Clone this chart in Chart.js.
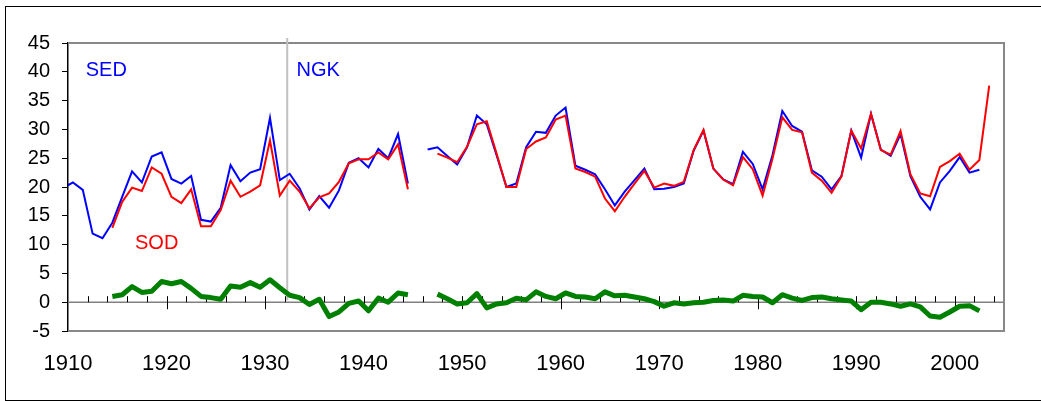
<!DOCTYPE html>
<html>
<head>
<meta charset="utf-8">
<script src="https://cdn.jsdelivr.net/npm/chart.js@4.4.1/dist/chart.umd.min.js"></script>
<style>
  html, body { margin: 0; padding: 0; background: #fff; overflow: hidden; }
  #wrap { position: relative; width: 1041px; height: 401px; }
  #frame { position: absolute; left: 5px; top: 6px; width: 1100px; height: 393px; border: 1px solid #000; pointer-events: none; }
</style>
</head>
<body>
<div id="wrap">
  <canvas id="myChart" width="1041" height="401"></canvas>
  <div id="frame"></div>
</div>
<script>
// years 1909..2003, null = no value
var years = [];
for (var yr = 1909; yr <= 2003; yr++) years.push(yr);

var sed = [
  19.8, 20.8, 19.5, 11.9, 11.1, 13.8, 18.3, 22.7, 20.8, 25.3,   // 1909-1918
  26.0, 21.4, 20.6, 21.9, 14.3, 14.0, 16.4, 23.8, 21.0, 22.5,   // 1919-1928
  23.1, 32.0, 21.2, 22.3, 19.8, 16.1, 18.4, 16.4, 19.4, 24.2,   // 1929-1938
  25.0, 23.4, 26.6, 25.0, 29.2, 20.6, null, 26.5, 26.9, 25.4,   // 1939-1948
  23.9, 26.9, 32.4, 30.9, 25.5, 20.0, 20.6, 26.9, 29.6, 29.4,   // 1949-1958
  32.4, 33.8, 23.7, 23.0, 22.2, 19.6, 16.8, 19.2, 21.2, 23.2,   // 1959-1968
  19.6, 19.7, 20.0, 20.6, 26.3, 29.8, 23.2, 21.3, 20.5, 26.1,   // 1969-1978
  24.0, 19.6, 25.5, 33.2, 30.6, 29.6, 22.9, 21.8, 19.6, 21.9,   // 1979-1988
  29.8, 25.1, 32.7, 26.5, 25.4, 29.2, 21.9, 18.3, 16.1, 20.8,   // 1989-1998
  22.8, 25.2, 22.5, 23.0, null                                  // 1999-2003
];

var sod = [
  null, null, null, null, null, 12.9, 17.4, 19.9, 19.3, 23.4,   // 1909-1918
  22.3, 18.3, 17.2, 19.6, 13.2, 13.2, 16.0, 21.1, 18.3, 19.2,   // 1919-1928
  20.3, 28.1, 18.5, 21.1, 19.2, 16.3, 18.2, 18.9, 20.9, 24.1,   // 1929-1938
  24.8, 24.8, 26.0, 24.8, 27.4, 19.6, null, null, 25.8, 25.1,   // 1939-1948
  24.3, 27.0, 30.9, 31.4, 25.8, 20.0, 20.0, 26.6, 27.9, 28.6,   // 1949-1958
  31.7, 32.4, 23.2, 22.6, 21.8, 18.0, 15.8, 18.3, 20.6, 22.8,   // 1959-1968
  19.9, 20.6, 20.2, 20.9, 26.4, 29.9, 23.2, 21.3, 20.3, 25.2,   // 1969-1978
  23.1, 18.5, 24.9, 32.1, 29.9, 29.5, 22.5, 21.1, 19.0, 21.8,   // 1979-1988
  29.8, 26.7, 32.7, 26.4, 25.6, 29.7, 22.2, 18.9, 18.4, 23.5,   // 1989-1998
  24.5, 25.8, 23.0, 24.7, 37.6                                  // 1999-2003
];

var diff = [
  null, null, null, null, null, 1.0, 1.3, 2.7, 1.7, 1.9,        // 1909-1918
  3.6, 3.2, 3.6, 2.4, 1.0, 0.8, 0.5, 2.8, 2.6, 3.4,             // 1919-1928
  2.6, 3.9, 2.5, 1.2, 0.8, -0.4, 0.5, -2.5, -1.7, -0.2,         // 1929-1938
  0.2, -1.5, 0.7, 0.0, 1.6, 1.3, null, null, 1.4, 0.6,          // 1939-1948
  -0.3, -0.1, 1.5, -1.0, -0.3, -0.1, 0.7, 0.4, 1.8, 1.0,        // 1949-1958
  0.6, 1.6, 1.0, 0.9, 0.6, 1.8, 1.1, 1.2, 0.9, 0.6,             // 1959-1968
  0.1, -0.7, -0.1, -0.3, -0.1, 0.0, 0.3, 0.4, 0.2, 1.2,         // 1969-1978
  1.0, 0.9, -0.1, 1.3, 0.7, 0.3, 0.8, 0.9, 0.6, 0.4,            // 1979-1988
  0.2, -1.3, 0.0, 0.0, -0.3, -0.7, -0.3, -0.8, -2.4, -2.6,      // 1989-1998
  -1.7, -0.7, -0.6, -1.5, null                                  // 1999-2003
];

var xTicks = [1910, 1920, 1930, 1940, 1950, 1960, 1970, 1980, 1990, 2000];
var yTicks = [-5, 0, 5, 10, 15, 20, 25, 30, 35, 40, 45];
var dividerYear = 1932.25;

// each year sits in the middle of its one-year slot
function pts(arr) {
  return arr.map(function (v, i) { return { x: years[i] + 0.5, y: v }; });
}

Chart.defaults.font.family = '"Liberation Sans", Arial, sans-serif';
Chart.defaults.color = '#000';

var deco = {
  id: 'deco',
  beforeDatasetsDraw: function (chart) {
    var ctx = chart.ctx, a = chart.chartArea, x = chart.scales.x, y = chart.scales.y;
    var y0 = y.getPixelForValue(0);
    ctx.save();
    // plot border (grey top, right, bottom)
    ctx.strokeStyle = '#888';
    ctx.lineWidth = 2;
    ctx.beginPath();
    ctx.moveTo(a.left, a.top);
    ctx.lineTo(a.right, a.top);
    ctx.lineTo(a.right, a.bottom);
    ctx.lineTo(a.left, a.bottom);
    ctx.stroke();
    // zero line
    ctx.strokeStyle = '#808080';
    ctx.lineWidth = 1.5;
    ctx.beginPath();
    ctx.moveTo(a.left, y0);
    ctx.lineTo(a.right, y0);
    ctx.stroke();
    // tick marks on the zero line
    ctx.strokeStyle = '#000';
    ctx.lineWidth = 1;
    for (var v = 1912; v <= 2004; v += 2) {
      var px = Math.round(x.getPixelForValue(v)) + 0.5;
      ctx.beginPath();
      ctx.moveTo(px, y0 - 6);
      ctx.lineTo(px, v % 10 === 0 ? y0 + 7 : y0);
      ctx.stroke();
    }
    // SED / NGK divider
    var dx = x.getPixelForValue(dividerYear);
    ctx.strokeStyle = '#c0c0c0';
    ctx.lineWidth = 2;
    ctx.beginPath();
    ctx.moveTo(dx, a.top - 5);
    ctx.lineTo(dx, y0 - 2);
    ctx.stroke();
    ctx.restore();
  },
  afterDatasetsDraw: function (chart) {
    var ctx = chart.ctx, x = chart.scales.x, y = chart.scales.y;
    ctx.save();
    ctx.font = '20px "Liberation Sans", Arial, sans-serif';
    ctx.textBaseline = 'middle';
    ctx.textAlign = 'left';
    ctx.fillStyle = '#0000ff';
    ctx.fillText('SED', x.getPixelForValue(1911.8), y.getPixelForValue(40.3));
    ctx.fillText('NGK', x.getPixelForValue(1933.2), y.getPixelForValue(40.3));
    ctx.fillStyle = '#ff0000';
    ctx.fillText('SOD', x.getPixelForValue(1916.8), y.getPixelForValue(10.2));
    ctx.restore();
  }
};

var ctx = document.getElementById('myChart');
var myChart = new Chart(ctx, {
  type: 'line',
  data: {
    datasets: [
      {
        label: 'SED-SOD',
        data: pts(diff),
        borderColor: '#008000',
        borderWidth: 5,
        borderJoinStyle: 'round',
        pointRadius: 0,
        spanGaps: false
      },
      {
        label: 'SOD',
        data: pts(sod),
        borderColor: '#ff0000',
        borderWidth: 2,
        pointRadius: 0,
        spanGaps: false
      },
      {
        label: 'SED',
        data: pts(sed),
        borderColor: '#0000ff',
        borderWidth: 2,
        pointRadius: 0,
        spanGaps: false
      }
    ]
  },
  options: {
    responsive: false,
    animation: false,
    devicePixelRatio: 1,
    layout: { padding: { top: 43, right: 37, bottom: 0, left: 0 } },
    plugins: { legend: { display: false }, tooltip: { enabled: false } },
    scales: {
      x: {
        type: 'linear',
        min: 1910,
        max: 2005,
        afterFit: function (s) { s.height = 70; },
        afterBuildTicks: function (s) { s.ticks = xTicks.map(function (v) { return { value: v }; }); },
        grid: { display: false, drawTicks: false },
        border: { display: false },
        ticks: {
          padding: 20,
          maxRotation: 0,
          autoSkip: false,
          font: { size: 22 },
          callback: function (v) { return String(v); }
        }
      },
      y: {
        min: -5,
        max: 45,
        afterFit: function (s) { s.width = 68; },
        afterBuildTicks: function (s) { s.ticks = yTicks.map(function (v) { return { value: v }; }); },
        grid: { drawOnChartArea: false, drawTicks: true, tickLength: 6, color: '#000', lineWidth: 1 },
        border: { display: true, color: '#000', width: 1.5 },
        ticks: {
          padding: 12,
          font: { size: 20 },
          callback: function (v) { return String(v); }
        }
      }
    }
  },
  plugins: [deco]
});
</script>
</body>
</html>
